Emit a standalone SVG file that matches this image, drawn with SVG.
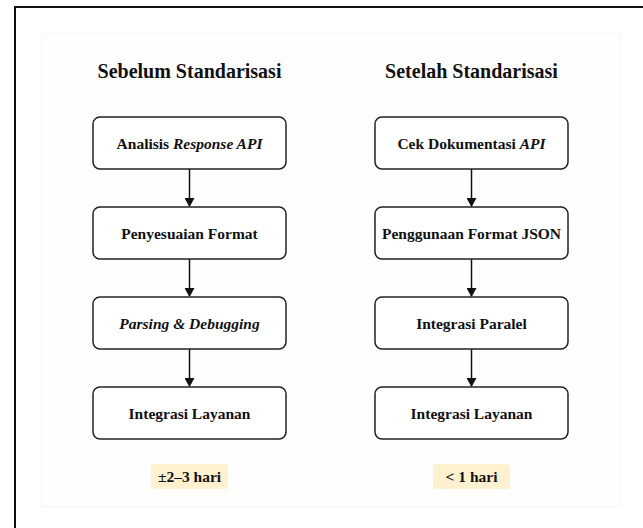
<svg xmlns="http://www.w3.org/2000/svg" width="643" height="528" viewBox="0 0 643 528">
<style>
.frame{fill:#ffffff;stroke:#111;stroke-width:2}
.panel{fill:#fefefe;stroke:#f5f5f5;stroke-width:1}
.title{font-family:'Liberation Serif','DejaVu Serif',serif;font-weight:bold;font-size:20px;fill:#111;text-anchor:middle}
.box{fill:#fff;stroke:#222;stroke-width:1.5}
.lbl{font-family:'Liberation Serif','DejaVu Serif',serif;font-weight:bold;font-size:15.5px;fill:#111;text-anchor:middle}
.badge{fill:#fdf1cf;stroke:none}
.edge{stroke:#111;stroke-width:1.5;fill:none;marker-end:url(#ah)}
</style>
<defs>
<marker id="ah" markerWidth="10" markerHeight="10" refX="8" refY="5" orient="auto" markerUnits="userSpaceOnUse">
<path d="M0,0 L9,5 L0,10 z" fill="#111"/>
</marker>
</defs>
<rect class="frame" x="15" y="7" width="640" height="540"/>
<rect class="panel" x="42" y="33" width="578" height="474"/>
<text class="title" x="189.5" y="78">Sebelum Standarisasi</text>
<text class="title" x="471.5" y="78">Setelah Standarisasi</text>
<g id="connectors">
<line class="edge" x1="189.5" y1="169" x2="189.5" y2="206"/>
<line class="edge" x1="189.5" y1="259" x2="189.5" y2="296"/>
<line class="edge" x1="189.5" y1="349" x2="189.5" y2="386"/>
<line class="edge" x1="471.5" y1="169" x2="471.5" y2="206"/>
<line class="edge" x1="471.5" y1="259" x2="471.5" y2="296"/>
<line class="edge" x1="471.5" y1="349" x2="471.5" y2="386"/>
</g>
<g id="a1"><rect class="box" x="93" y="117" width="193" height="52" rx="7"/><text class="lbl" x="189.5" y="148.5">Analisis <tspan font-style="italic">Response API</tspan></text></g>
<g id="a2"><rect class="box" x="93" y="207" width="193" height="52" rx="7"/><text class="lbl" x="189.5" y="238.5">Penyesuaian Format</text></g>
<g id="a3"><rect class="box" x="93" y="297" width="193" height="52" rx="7"/><text class="lbl" x="189.5" y="328.5" font-style="italic">Parsing &amp; Debugging</text></g>
<g id="a4"><rect class="box" x="93" y="387" width="193" height="52" rx="7"/><text class="lbl" x="189.5" y="418.5">Integrasi Layanan</text></g>
<g id="b1"><rect class="box" x="375" y="117" width="193" height="52" rx="7"/><text class="lbl" x="471.5" y="148.5">Cek Dokumentasi <tspan font-style="italic">API</tspan></text></g>
<g id="b2"><rect class="box" x="375" y="207" width="193" height="52" rx="7"/><text class="lbl" x="471.5" y="238.5">Penggunaan Format JSON</text></g>
<g id="b3"><rect class="box" x="375" y="297" width="193" height="52" rx="7"/><text class="lbl" x="471.5" y="328.5">Integrasi Paralel</text></g>
<g id="b4"><rect class="box" x="375" y="387" width="193" height="52" rx="7"/><text class="lbl" x="471.5" y="418.5">Integrasi Layanan</text></g>
<g id="t1"><rect class="badge" x="151" y="464" width="77" height="25" rx="3"/><text class="lbl" x="189.5" y="482">±2–3 hari</text></g>
<g id="t2"><rect class="badge" x="433" y="464" width="77" height="25" rx="3"/><text class="lbl" x="471.5" y="482">&lt; 1 hari</text></g>
</svg>
